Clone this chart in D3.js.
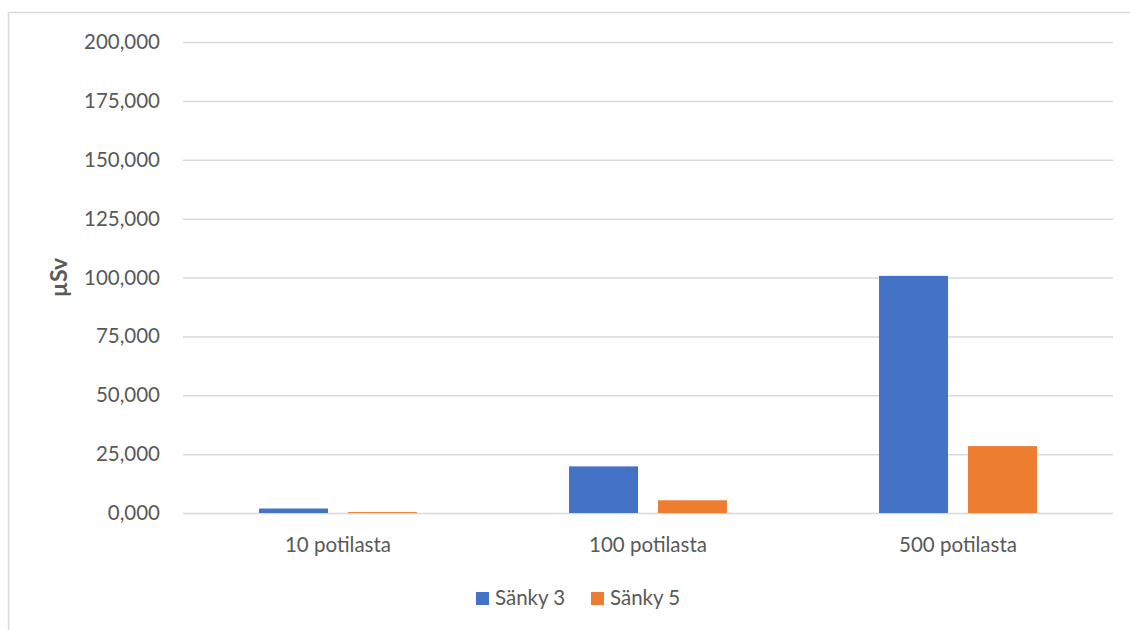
<!DOCTYPE html>
<html>
<head>
<meta charset="utf-8">
<script src="https://cdn.jsdelivr.net/npm/d3@7"></script>
<style>
  html, body { margin: 0; padding: 0; background: #fff; }
  svg text { font-family: Lato, "Open Sans", sans-serif; fill: #595959; }
</style>
</head>
<body>
<svg id="chart" width="1130" height="630"></svg>
<script>
// Categories and series (µSv)
const categories = ["10 potilasta", "100 potilasta", "500 potilasta"];
const seriesNames = ["Sänky 3", "Sänky 5"];
const sanky3 = [1.9, 19.8, 100.7];
const sanky5 = [0.4, 5.4, 28.4];
const yTicks = [0, 25, 50, 75, 100, 125, 150, 175, 200];
const colors = ["#4472c4", "#ed7d31"];

const svg = d3.select("#chart");
const margin = { left: 183, right: 17, top: 42, bottom: 117 };
const W = 1130, H = 630;

// Chart area frame
svg.append("rect")
  .attr("x", 8.5).attr("y", 12.5)
  .attr("width", 1140).attr("height", 640)
  .attr("fill", "none").attr("stroke", "#d9d9d9").attr("stroke-width", 1.5);

const x0 = d3.scaleBand().domain(categories)
  .range([margin.left, W - margin.right]).paddingInner(0).paddingOuter(0);
const x1 = d3.scaleBand().domain(seriesNames)
  .range([0, x0.bandwidth()]).paddingInner(0.225).paddingOuter(0.854);
const y = d3.scaleLinear().domain([0, 200]).range([H - margin.bottom, margin.top]);

const fmt = v => d3.format(".3f")(v).replace(".", ",");

// Gridlines + tick labels
const yAxis = d3.axisLeft(y).tickValues(yTicks).tickFormat(fmt)
  .tickSize(-(W - margin.left - margin.right)).tickPadding(23);
const gy = svg.append("g").attr("transform", `translate(${margin.left},0)`).call(yAxis);
gy.select(".domain").remove();
gy.selectAll(".tick line").attr("stroke", "#d9d9d9").attr("stroke-width", 1.5);
gy.selectAll(".tick text").attr("font-size", 20.5).attr("fill", "#595959")
  .style("font-family", "Lato, sans-serif");

// Bars
const data = categories.map((c, i) => ({ cat: c, vals: [sanky3[i], sanky5[i]] }));
const groups = svg.append("g").selectAll("g").data(data).join("g")
  .attr("transform", d => `translate(${x0(d.cat)},0)`);
groups.selectAll("rect")
  .data(d => d.vals.map((v, j) => ({ name: seriesNames[j], v, j })))
  .join("rect")
  .attr("x", d => x1(d.name))
  .attr("width", x1.bandwidth())
  .attr("y", d => y(d.v))
  .attr("height", d => y(0) - y(d.v))
  .attr("fill", d => colors[d.j]);

// Category labels
const xAxis = d3.axisBottom(x0).tickSize(0).tickPadding(24);
const gx = svg.append("g").attr("transform", `translate(0,${y(0)})`).call(xAxis);
gx.select(".domain").remove();
gx.selectAll(".tick text").attr("font-size", 20.5).attr("fill", "#595959")
  .style("font-family", "Lato, sans-serif");

// Y axis title
svg.append("text")
  .attr("transform", `translate(67,${(y(0) + y(200)) / 2}) rotate(-90)`)
  .attr("text-anchor", "middle")
  .attr("font-size", 23).attr("font-weight", "bold")
  .text("µSv");

// Legend
const legend = svg.append("g").attr("transform", "translate(476,592)");
const items = [{ name: seriesNames[0], x: 0 }, { name: seriesNames[1], x: 115 }];
items.forEach((it, i) => {
  legend.append("rect").attr("x", it.x).attr("y", 0).attr("width", 13).attr("height", 13)
    .attr("fill", colors[i]);
  legend.append("text").attr("x", it.x + 19).attr("y", 13)
    .attr("font-size", 20.5).text(it.name);
});
</script>
</body>
</html>
